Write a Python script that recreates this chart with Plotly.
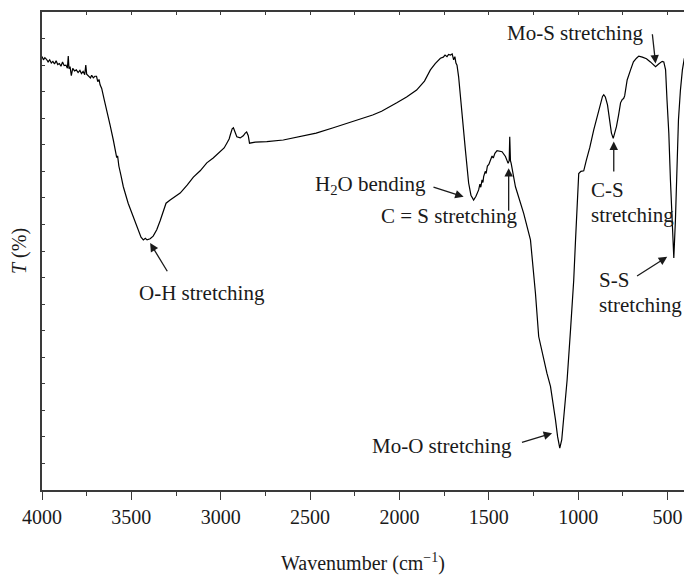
import plotly.graph_objects as go

# FTIR spectrum (wavenumber in cm^-1, transmittance in arbitrary %)
wavenumber = [
    4000, 3992, 3984, 3975, 3966, 3957, 3948, 3939, 3930, 3921, 3912, 3903, 3894, 3885, 3876,
    3866, 3858, 3853, 3849, 3843, 3836, 3828, 3818, 3808, 3798, 3788, 3779, 3770, 3761, 3755,
    3750, 3743, 3736, 3729, 3722, 3713, 3704, 3695, 3688, 3681, 3675, 3666, 3652, 3638, 3619,
    3601, 3588, 3582, 3577, 3570, 3558, 3545, 3518, 3498, 3479, 3461, 3446, 3433, 3422, 3412,
    3395, 3378, 3358, 3339, 3321, 3306, 3283, 3255, 3227, 3188, 3153, 3115, 3078, 3042, 3003,
    2981, 2966, 2953, 2947, 2936, 2929, 2919, 2910, 2891, 2874, 2863, 2855, 2846, 2839, 2807,
    2742, 2650, 2555, 2466, 2370, 2303, 2275, 2202, 2150, 2100, 2060, 2015, 1960, 1904, 1860,
    1827, 1800, 1771, 1755, 1745, 1734, 1725, 1715, 1705, 1697, 1690, 1684, 1678, 1669, 1650,
    1631, 1613, 1600, 1585, 1572, 1557, 1550, 1545, 1538, 1533, 1529, 1520, 1515, 1508, 1500,
    1491, 1482, 1475, 1466, 1454, 1440, 1426, 1407, 1392, 1386, 1383, 1379, 1375, 1351, 1305,
    1267, 1239, 1221, 1193, 1175, 1155, 1140, 1127, 1115, 1103, 1092, 1081, 1070, 1062, 1043,
    1025, 1015, 1006, 997, 985, 969, 955, 935, 913, 892, 875, 864, 857, 848, 836,
    825, 814, 804, 797, 786, 774, 763, 754, 746, 740, 726, 707, 691, 674, 661,
    641, 618, 596, 567, 550, 530, 521, 511, 503, 493, 484, 475, 465, 456, 447,
    439, 428, 417, 406,
]
transmittance = [
    81.6, 81.0, 81.4, 81.1, 80.6, 81.0, 80.4, 80.7, 80.2, 80.8, 80.1, 80.3, 79.8, 80.6, 79.9,
    80.0, 79.4, 81.7, 79.3, 79.7, 78.0, 79.4, 78.9, 79.1, 78.6, 79.0, 78.4, 78.8, 78.2, 80.0,
    78.3, 78.0, 77.9, 77.6, 78.1, 77.6, 77.9, 77.9, 76.9, 77.3, 76.3, 75.6, 73.5, 71.6, 68.7,
    65.9, 63.6, 62.6, 62.9, 61.0, 59.2, 57.1, 54.0, 52.2, 50.5, 49.0, 47.6, 47.1, 47.4, 47.1,
    47.3, 47.8, 49.0, 50.7, 52.7, 54.0, 54.6, 55.2, 55.9, 57.4, 58.9, 60.1, 61.6, 62.5, 63.6,
    64.4, 65.3, 66.1, 66.8, 68.0, 68.2, 67.2, 66.5, 66.3, 66.7, 67.2, 67.4, 66.7, 65.3, 65.5,
    65.6, 65.9, 66.5, 67.2, 68.2, 68.9, 69.3, 70.0, 70.6, 71.3, 72.0, 72.9, 74.0, 75.3, 77.0,
    79.1, 80.3, 81.3, 81.5, 81.9, 81.6, 82.0, 81.9, 82.1, 81.0, 81.6, 80.4, 80.0, 77.8, 70.3,
    64.0, 57.8, 55.5, 54.6, 55.3, 56.5, 57.6, 57.0, 58.4, 57.9, 59.0, 60.0, 59.6, 61.0, 61.3,
    62.1, 62.9, 62.5, 63.4, 63.9, 63.8, 63.7, 62.8, 61.5, 62.0, 66.5, 62.0, 61.5, 57.1, 52.1,
    47.1, 37.0, 28.9, 24.5, 22.0, 19.5, 16.5, 13.2, 10.0, 7.9, 9.5, 13.2, 17.0, 20.7, 30.1,
    39.5, 47.0, 54.6, 59.6, 60.0, 60.1, 62.0, 64.5, 67.8, 70.6, 72.8, 74.1, 74.4, 74.0, 72.5,
    70.0, 67.2, 66.2, 66.9, 68.4, 70.6, 72.9, 73.5, 73.7, 74.2, 77.2, 79.1, 80.6, 81.3, 81.7,
    81.5, 81.2, 80.6, 79.7, 80.2, 80.7, 80.6, 79.1, 73.4, 67.2, 58.4, 50.8, 43.7, 50.8, 62.1,
    69.7, 75.3, 79.1, 81.3,
]

x_tick_values = [4000, 3500, 3000, 2500, 2000, 1500, 1000, 500]
x_tick_labels = ["4000", "3500", "3000", "2500", "2000", "1500", "1000", "500"]

# Labels: (text, x, y, xanchor)
label_texts = ["O-H stretching", "H<sub>2</sub>O bending", "C = S stretching",
               "Mo-O stretching", "C-S", "stretching", "S-S", "stretching", "Mo-S stretching"]
label_x = [3104, 2163, 1721, 1760, 942, 942, 892, 892, 1018]
label_y = [37.1, 57.4, 51.5, 8.2, 56.5, 51.8, 39.6, 34.9, 86.0]
label_anchor = ["center", "center", "center", "center", "left", "left", "left", "left", "center"]

# Arrows: tail (ax, ay) -> tip (x, y)
arrow_tail_x = [3294, 1818, 1389, 1323, 801, 679, 586]
arrow_tail_y = [40.9, 57.1, 52.3, 8.9, 59.7, 40.1, 86.1]
arrow_tip_x = [3395, 1641, 1389, 1146, 801, 502, 567]
arrow_tip_y = [46.5, 55.2, 60.6, 10.7, 65.6, 43.9, 80.3]

FONT = "Liberation Serif, Times New Roman, serif"
AXC = "#3a3a3a"

fig = go.Figure()
fig.add_trace(go.Scatter(x=wavenumber, y=transmittance, mode="lines",
                         line=dict(color="black", width=1.2), showlegend=False,
                         hoverinfo="skip"))
# empty trace to host the top mirror axis
fig.add_trace(go.Scatter(x=[], y=[], xaxis="x2", showlegend=False))

annotations = []
for t, x, y, a in zip(label_texts, label_x, label_y, label_anchor):
    annotations.append(dict(text=t, x=x, y=y, xref="x", yref="y", xanchor=a,
                            yanchor="middle", showarrow=False,
                            font=dict(family=FONT, size=21, color="#1a1a1a")))
for tx, ty, hx, hy in zip(arrow_tail_x, arrow_tail_y, arrow_tip_x, arrow_tip_y):
    annotations.append(dict(text="", x=hx, y=hy, ax=tx, ay=ty, xref="x", yref="y",
                            axref="x", ayref="y", showarrow=True, arrowhead=2,
                            arrowsize=1.3, arrowwidth=1.3, arrowcolor="#1a1a1a"))

fig.update_layout(
    width=684, height=575,
    margin=dict(l=42, r=0, t=12, b=85),
    paper_bgcolor="white", plot_bgcolor="white",
    font=dict(family=FONT, size=20, color="#1a1a1a"),
    xaxis=dict(range=[4000, 408], tickvals=x_tick_values, ticktext=x_tick_labels,
               ticks="outside", ticklen=8, tickwidth=1.3, tickcolor=AXC,
               minor=dict(dtick=250, tick0=0, ticks="outside", ticklen=4,
                          tickwidth=1.3, tickcolor=AXC),
               showline=True, linecolor=AXC, linewidth=1.6, showgrid=False,
               zeroline=False, tickfont=dict(size=20),
               title=dict(text="Wavenumber (cm<sup>\u22121</sup>)", standoff=30,
                          font=dict(size=20))),
    xaxis2=dict(range=[4000, 408], overlaying="x", side="top", dtick=250, tick0=0,
                ticks="inside", ticklen=3, tickwidth=1.2, tickcolor=AXC,
                showticklabels=False, showline=True, linecolor=AXC, linewidth=1.6,
                showgrid=False, zeroline=False),
    yaxis=dict(range=[0, 90], dtick=5, tick0=0, ticks="inside", ticklen=3,
               tickwidth=1.2, tickcolor=AXC, showticklabels=False, showline=True,
               linecolor=AXC, linewidth=1.6, showgrid=False, zeroline=False,
               title=dict(text="<i>T</i> (%)", standoff=8, font=dict(size=20))),
    annotations=annotations,
)

fig.write_html("out.html")
